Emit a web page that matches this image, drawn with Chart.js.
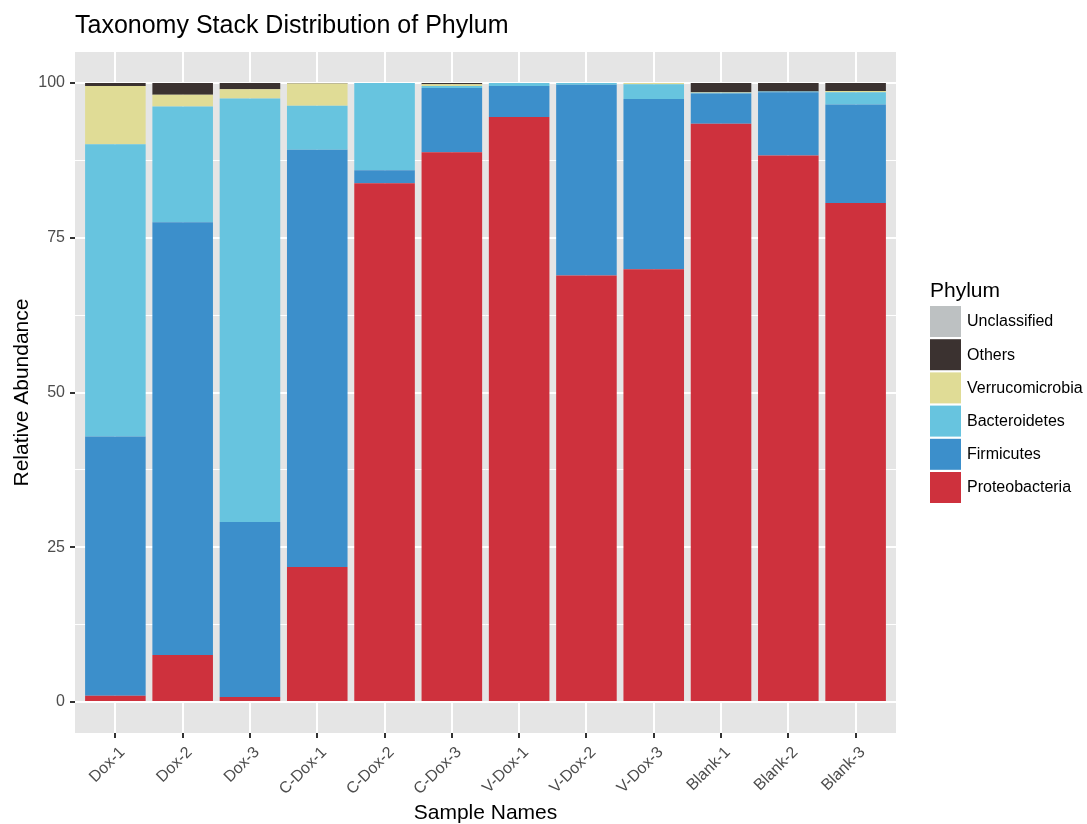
<!DOCTYPE html>
<html>
<head>
<meta charset="utf-8">
<title>Taxonomy Stack Distribution of Phylum</title>
<script src="https://cdn.jsdelivr.net/npm/chart.js@4"></script>
<style>
  html, body { margin: 0; padding: 0; background: #ffffff; }
  #wrap { width: 1087px; height: 824px; position: relative; }
  canvas { display: block; }
</style>
</head>
<body>
<div id="wrap"><canvas id="chart" width="1087" height="824"></canvas></div>
<script>
// Sample names along the x axis
const samples = ['Dox-1', 'Dox-2', 'Dox-3', 'C-Dox-1', 'C-Dox-2', 'C-Dox-3',
                 'V-Dox-1', 'V-Dox-2', 'V-Dox-3', 'Blank-1', 'Blank-2', 'Blank-3'];

// Relative abundance (%) per phylum, one value per sample
const proteobacteria  = [1.0, 7.6, 0.8, 21.8, 83.8, 88.8, 94.5, 68.9, 69.9, 93.4, 88.3, 80.6];
const firmicutes      = [41.9, 69.9, 28.3, 67.4, 2.1, 10.4, 5.0, 30.8, 27.5, 4.9, 10.2, 15.9];
const bacteroidetes   = [47.2, 18.7, 68.4, 7.1, 14.1, 0.3, 0.5, 0.3, 2.4, 0.1, 0.1, 2.0];
const verrucomicrobia = [9.4, 1.9, 1.5, 3.6, 0.0, 0.3, 0.0, 0.0, 0.2, 0.1, 0.0, 0.2];
const others          = [0.5, 1.9, 1.0, 0.1, 0.0, 0.2, 0.0, 0.0, 0.0, 1.5, 1.4, 1.3];
const unclassified    = [0, 0, 0, 0, 0, 0, 0, 0, 0, 0, 0, 0];

// Y axis ticks: labelled majors every 25, minor grid lines halfway between
const yTicks = [0, 12.5, 25, 37.5, 50, 62.5, 75, 87.5, 100];
const yLabelled = [0, 25, 50, 75, 100];

const FONT = '"Liberation Sans", Arial, Helvetica, sans-serif';
const PANEL = '#E5E5E5';
const AXIS_TEXT = '#4D4D4D';

function series(label, values, color) {
  return {
    label: label,
    data: values.map((v, i) => ({ x: i + 1, y: v })),
    backgroundColor: color,
    borderWidth: 0,
    barPercentage: 0.9,
    categoryPercentage: 1.0
  };
}

const datasets = [
  series('Proteobacteria', proteobacteria, '#CE313D'),
  series('Firmicutes', firmicutes, '#3C8FCB'),
  series('Bacteroidetes', bacteroidetes, '#67C4DF'),
  series('Verrucomicrobia', verrucomicrobia, '#E0DC96'),
  series('Others', others, '#3B3230'),
  series('Unclassified', unclassified, '#BDC1C2')
];

// Grey plotting panel behind the grid
const panelBackground = {
  id: 'panelBackground',
  beforeDraw(chart) {
    const { ctx, chartArea: a } = chart;
    ctx.save();
    ctx.fillStyle = PANEL;
    ctx.fillRect(a.left, a.top, a.right - a.left, a.bottom - a.top);
    ctx.restore();
  }
};

// Plot title, axis titles and the Phylum legend
const annotations = {
  id: 'annotations',
  afterDraw(chart) {
    const { ctx, chartArea: a } = chart;
    ctx.save();
    ctx.fillStyle = '#000000';

    ctx.font = '25px ' + FONT;
    ctx.textAlign = 'left';
    ctx.textBaseline = 'alphabetic';
    ctx.fillText('Taxonomy Stack Distribution of Phylum', a.left, 33);

    ctx.font = '21px ' + FONT;
    ctx.textAlign = 'center';
    ctx.fillText('Sample Names', (a.left + a.right) / 2, 819);

    ctx.save();
    ctx.translate(27.5, (a.top + a.bottom) / 2);
    ctx.rotate(-Math.PI / 2);
    ctx.fillText('Relative Abundance', 0, 0);
    ctx.restore();

    // Legend, top entry is the last stacked series
    const lx = 930;
    ctx.textAlign = 'left';
    ctx.font = '21px ' + FONT;
    ctx.fillText('Phylum', lx, 297);
    ctx.font = '16px ' + FONT;
    ctx.textBaseline = 'middle';
    const items = chart.data.datasets.slice().reverse();
    items.forEach((ds, i) => {
      const y = 306 + i * 33.2;
      ctx.fillStyle = ds.backgroundColor;
      ctx.fillRect(lx, y, 31, 31);
      ctx.fillStyle = '#000000';
      ctx.fillText(ds.label, lx + 37, y + 16);
    });
    ctx.restore();
  }
};

new Chart(document.getElementById('chart'), {
  type: 'bar',
  data: { datasets: datasets },
  plugins: [panelBackground, annotations],
  options: {
    responsive: false,
    animation: false,
    devicePixelRatio: 1,
    layout: { padding: { left: 0, top: 52, right: 191, bottom: 0 } },
    plugins: {
      legend: { display: false },
      title: { display: false },
      tooltip: { enabled: false }
    },
    scales: {
      x: {
        type: 'linear',
        stacked: true,
        offset: false,
        min: 0.4,
        max: 12.6,
        afterBuildTicks(axis) {
          axis.ticks = samples.map((s, i) => ({ value: i + 1 }));
        },
        afterFit(scale) { scale.height = 91; },
        border: { display: false },
        grid: {
          offset: false,
          color: '#FFFFFF',
          lineWidth: 2,
          drawTicks: true,
          tickLength: 5,
          tickColor: '#333333',
          tickWidth: 2
        },
        ticks: {
          autoSkip: false,
          maxRotation: 45,
          minRotation: 45,
          padding: 5,
          labelOffset: 7,
          color: AXIS_TEXT,
          font: { family: FONT, size: 16 },
          callback: (v) => samples[Math.round(v) - 1]
        }
      },
      y: {
        type: 'linear',
        stacked: true,
        min: -5,
        max: 105,
        afterBuildTicks(axis) {
          axis.ticks = yTicks.map(v => ({ value: v }));
        },
        afterFit(scale) { scale.width = 75; },
        border: { display: false },
        grid: {
          color: '#FFFFFF',
          lineWidth: (c) => (c.tick && yLabelled.includes(c.tick.value)) ? 2 : 1,
          drawTicks: true,
          tickLength: 5,
          tickColor: (c) => (c.tick && yLabelled.includes(c.tick.value)) ? '#333333' : 'rgba(0,0,0,0)',
          tickWidth: 2
        },
        ticks: {
          autoSkip: false,
          padding: 5,
          color: AXIS_TEXT,
          font: { family: FONT, size: 16 },
          callback: (v) => yLabelled.includes(v) ? String(v) : ''
        }
      }
    }
  }
});
</script>
</body>
</html>
